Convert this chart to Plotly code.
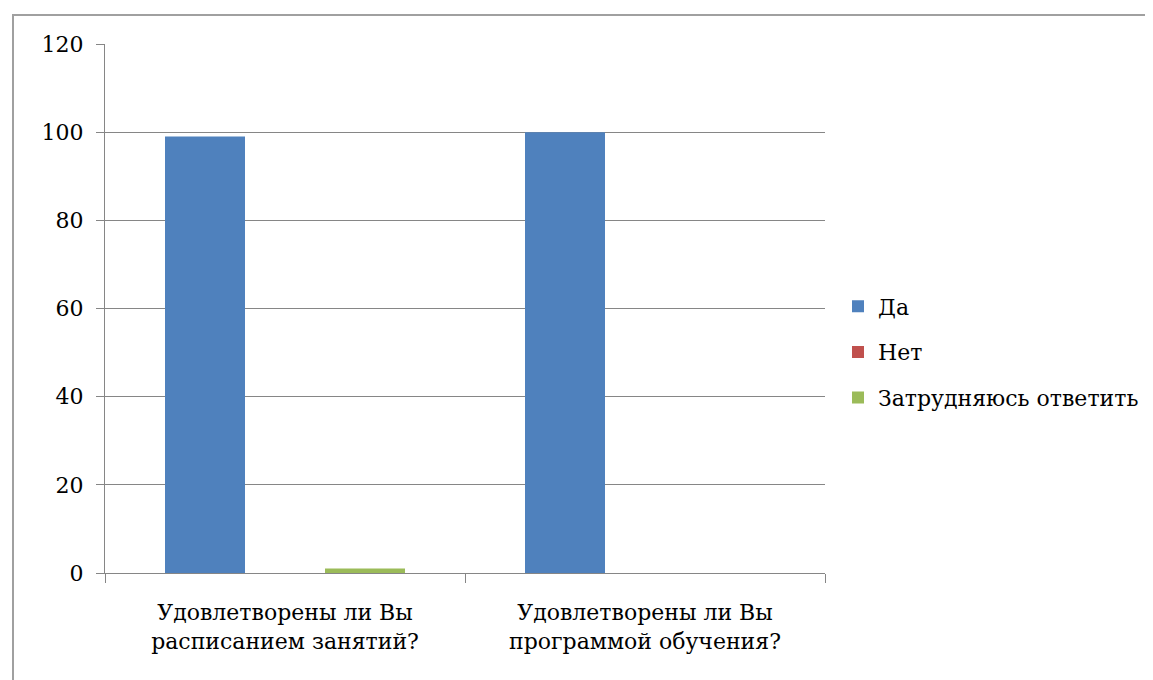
import plotly.graph_objects as go

categories = ["Удовлетворены ли Вы<br>расписанием занятий?",
              "Удовлетворены ли Вы<br>программой обучения?"]
series_names = ["Да", "Нет", "Затрудняюсь ответить"]
yes_values = [99, 100]
no_values = [0, 0]
unsure_values = [1, 0]
y_ticks = [0, 20, 40, 60, 80, 100, 120]

colors = ["#4F81BD", "#C0504D", "#9BBB59"]
font_family = "DejaVu Serif, Liberation Serif, serif"

fig = go.Figure()
for i, (name, vals) in enumerate(zip(series_names, [yes_values, no_values, unsure_values])):
    fig.add_trace(go.Bar(x=categories, y=vals, name=name, marker_color=colors[i],
                         marker_line_width=0, legendgroup=f"g{i}"))

# page has an 8px body margin; coordinates below are in screenshot pixels
OFF = 8
W, H = 1153 - OFF, 680 - OFF
L, R, T, B = 105 - OFF, 825 - OFF, 44 - OFF, 573 - OFF
pw, ph = R - L, B - T

def px(x):
    return (x - OFF - L) / pw

def py(y):
    return (B - (y - OFF)) / ph

frame = dict(color="#a0a0a0", width=2)

fig.update_layout(
    width=W, height=H,
    margin=dict(l=L, r=W - R, t=T, b=H - B, autoexpand=False),
    paper_bgcolor="white", plot_bgcolor="white",
    barmode="group", bargap=1/3, bargroupgap=0,
    font=dict(family=font_family, size=22, color="black"),
    legend=dict(xref="container", yref="container",
                x=(838 - OFF) / W, y=1 - (352 - OFF) / H,
                xanchor="left", yanchor="middle",
                font=dict(family=font_family, size=22), tracegroupgap=14, itemwidth=30,
                bgcolor="rgba(0,0,0,0)"),
    xaxis=dict(showline=True, linecolor="#868686", linewidth=1,
               ticks="outside", tickson="boundaries", ticklen=9, tickcolor="#868686",
               showgrid=False, tickfont=dict(family=font_family, size=22),
               ticklabelstandoff=20),
    yaxis=dict(range=[0, 120], tickvals=y_ticks, showline=True, linecolor="#868686",
               linewidth=1, ticks="outside", ticklen=8, tickcolor="#868686",
               showgrid=True, gridcolor="#868686", gridwidth=1, zeroline=False,
               tickfont=dict(family=font_family, size=22), ticklabelstandoff=8),
    shapes=[
        dict(type="line", xref="paper", yref="paper",
             x0=px(13), x1=px(13), y0=py(15), y1=py(800), line=frame, layer="below"),
        dict(type="line", xref="paper", yref="paper",
             x0=px(12), x1=px(1300), y0=py(15), y1=py(15), line=frame, layer="below"),
    ],
)

fig.write_html("out.html")
